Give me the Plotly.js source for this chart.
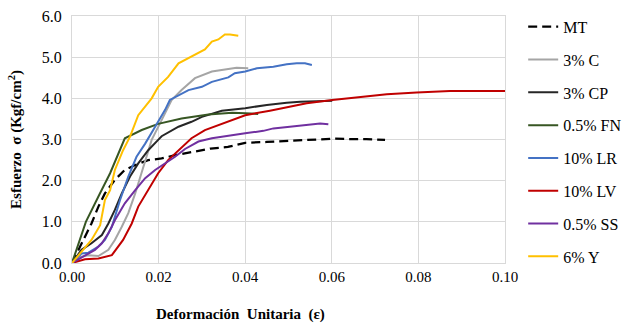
<!DOCTYPE html>
<html><head><meta charset="utf-8">
<script src="https://cdn.plot.ly/plotly-3.0.1.min.js"></script>
<style>html,body{margin:0;padding:0;background:#fff}#c{width:627px;height:331px}</style>
</head><body><div id="c"></div>
<script>
const names = ["MT","3% C","3% CP","0.5% FN","10% LR","10% LV","0.5% SS","6% Y"];
const colors = ["#000000","#A5A5A5","#262626","#375623","#4472C4","#C00000","#7030A0","#FFC000"];

const mtX = [0,0.0015,0.003,0.0045,0.0061,0.0076,0.0099,0.0122,0.0146,0.0176,0.0207,0.0238,0.028,0.032,0.036,0.04,0.045,0.05,0.055,0.0603,0.065,0.068,0.0723];
const mtY = [0,0.32,0.64,0.96,1.37,1.69,2.02,2.26,2.38,2.50,2.54,2.62,2.70,2.78,2.82,2.92,2.94,2.97,2.99,3.02,3.01,3.01,2.99];

const cX = [0,0.002,0.0038,0.0061,0.0084,0.0099,0.0115,0.013,0.0146,0.0161,0.0172,0.0184,0.0207,0.023,0.0253,0.0284,0.0323,0.0361,0.038,0.0407];
const cY = [0,0.15,0.19,0.17,0.32,0.56,0.88,1.21,1.69,2.18,2.58,2.99,3.47,3.96,4.20,4.49,4.65,4.71,4.74,4.73];

const cpX = [0,0.0022,0.0045,0.0069,0.0084,0.0099,0.0115,0.0134,0.0153,0.0176,0.0199,0.0207,0.0246,0.0276,0.03,0.0346,0.04,0.045,0.0496,0.0527,0.0565,0.0601];
const cpY = [0,0.32,0.48,0.68,0.96,1.29,1.69,2.10,2.42,2.74,2.99,3.08,3.31,3.43,3.55,3.70,3.76,3.84,3.89,3.92,3.93,3.94];

const fnX = [0,0.0032,0.0065,0.0088,0.0122,0.0161,0.0199,0.0253,0.0315,0.037,0.04,0.043];
const fnY = [0,1.0,1.7,2.18,3.03,3.23,3.38,3.51,3.61,3.65,3.64,3.62];

const lrX = [0,0.0022,0.0038,0.0061,0.0076,0.0092,0.0111,0.013,0.0149,0.0169,0.0192,0.0215,0.0226,0.0246,0.0269,0.03,0.0323,0.0361,0.0376,0.04,0.0427,0.0465,0.0496,0.0519,0.0538,0.0554];
const lrY = [0,0.23,0.25,0.40,0.56,0.88,1.53,2.10,2.58,2.90,3.31,3.72,3.96,4.08,4.20,4.28,4.40,4.51,4.61,4.65,4.73,4.77,4.83,4.85,4.85,4.81];

const lvX = [0,0.003,0.0061,0.0092,0.0118,0.0138,0.0153,0.0176,0.0199,0.0222,0.0246,0.0276,0.0307,0.0338,0.04,0.0457,0.0503,0.0542,0.0601,0.068,0.0727,0.0796,0.0873,0.1];
const lvY = [0,0.09,0.11,0.19,0.56,0.96,1.37,1.77,2.18,2.50,2.74,3.03,3.23,3.35,3.59,3.70,3.80,3.88,3.96,4.04,4.10,4.14,4.18,4.18];

const ssX = [0,0.003,0.0053,0.0069,0.0084,0.0099,0.0122,0.0146,0.0169,0.0192,0.0215,0.0238,0.0261,0.0292,0.0323,0.0369,0.04,0.0442,0.0465,0.0503,0.0542,0.0573,0.0592];
const ssY = [0,0.19,0.32,0.48,0.72,1.04,1.45,1.77,2.06,2.26,2.42,2.58,2.77,2.95,3.03,3.11,3.15,3.21,3.27,3.31,3.35,3.39,3.37];

const yX = [0,0.0015,0.0045,0.0065,0.0076,0.0088,0.0099,0.0118,0.0134,0.0153,0.0169,0.0184,0.0199,0.0222,0.0246,0.0276,0.0307,0.0323,0.0338,0.0353,0.0365,0.0384];
const yY = [0,0.19,0.56,0.92,1.53,1.77,2.26,2.74,3.07,3.59,3.80,4.0,4.28,4.52,4.85,5.01,5.19,5.38,5.43,5.55,5.55,5.52];

const xTitle = 'Deformación  Unitaria  (ε)';
const yTitle = 'Esfuerzo  σ (Kgf/cm<sup>2</sup>)';

const xs = [mtX,cX,cpX,fnX,lrX,lvX,ssX,yX];
const ys = [mtY,cY,cpY,fnY,lrY,lvY,ssY,yY];

const traces = names.map((n,i)=>({
  x: xs[i], y: ys[i], name: n, type:'scatter', mode:'lines',
  legendgroup: 'g'+i,
  line:{color:colors[i], width: i===0?2.25:2, dash: i===0?'9px,5px':'solid', shape:'linear'}
}));

const fam = 'Liberation Serif';
const layout = {
  width:627, height:331,
  margin:{l:72, r:122, t:16, b:68, autoexpand:false},
  paper_bgcolor:'#fff', plot_bgcolor:'#fff',
  font: {family:fam, color:'#000', size:14},
  showlegend:true,
  legend:{x:1.042, xanchor:'left', y:1.025, yanchor:'top', maxheight:320, font:{family:fam, size:16, color:'#000'}, tracegroupgap:9, bgcolor:'rgba(0,0,0,0)'},
  xaxis:{range:[0,0.1], dtick:0.02, tick0:0, tickformat:'.2f', showgrid:true, gridcolor:'#D9D9D9', gridwidth:1,
    zeroline:false, showline:true, linecolor:'#D9D9D9', mirror:true, ticks:'', tickfont:{family:fam, size:15}},
  yaxis:{range:[0,6], dtick:1, tick0:0, tickformat:'.1f', showgrid:true, gridcolor:'#D9D9D9', gridwidth:1,
    zeroline:false, showline:true, linecolor:'#D9D9D9', mirror:true, ticks:'', tickfont:{family:fam, size:16},
    ticklabelstandoff:6,
    title:{text:'<b>'+yTitle+'</b>', font:{family:fam, size:15}, standoff:16}},
  annotations:[{text:'<b>'+xTitle+'</b>', xref:'paper', yref:'paper', x:0.388, y:-0.21, xanchor:'center', yanchor:'middle',
    showarrow:false, font:{family:fam, size:15, color:'#000'}}]
};
Plotly.newPlot('c', traces, layout, {staticPlot:true, displayModeBar:false});
</script></body></html>
